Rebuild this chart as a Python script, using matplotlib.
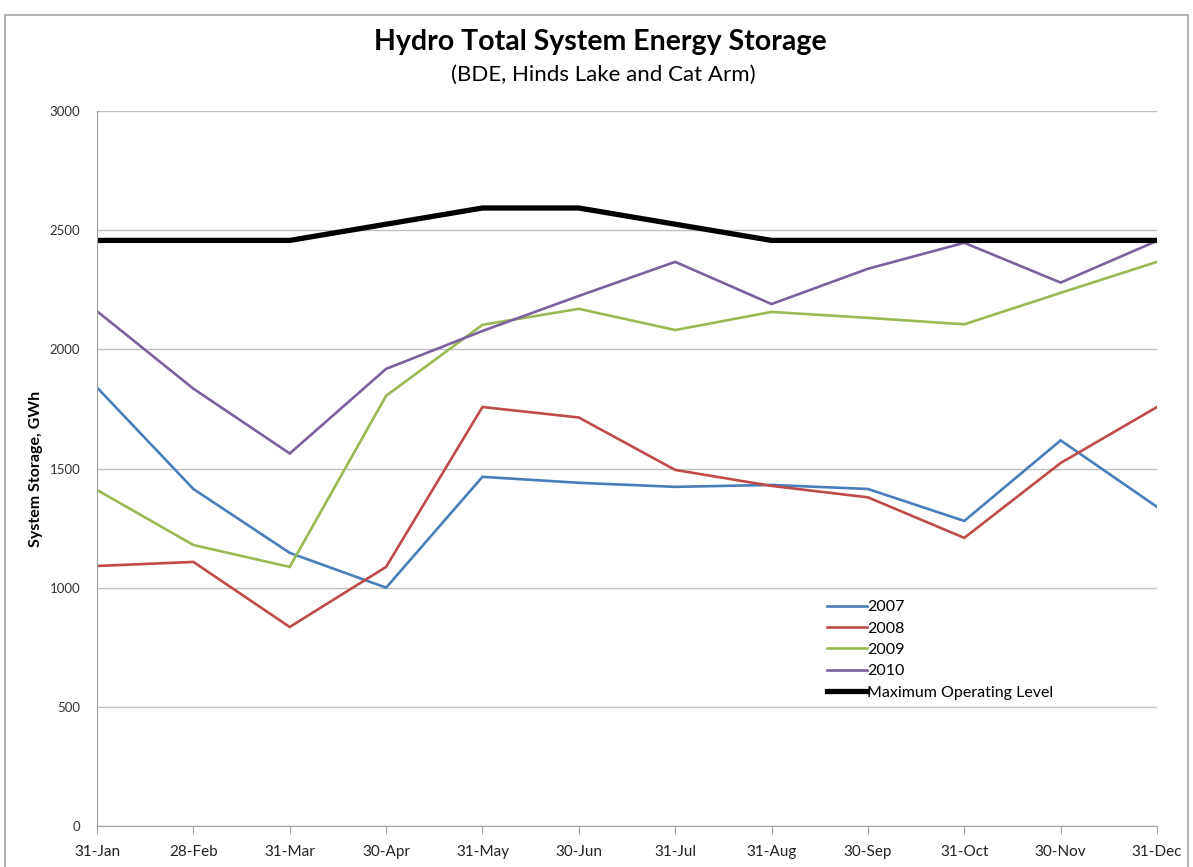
import matplotlib
matplotlib.use("Agg")
import matplotlib.pyplot as plt
from matplotlib.patches import Rectangle

plt.rcParams['font.family'] = ['Lato', 'DejaVu Sans']

months = ["31-Jan", "28-Feb", "31-Mar", "30-Apr", "31-May", "30-Jun",
          "31-Jul", "31-Aug", "30-Sep", "31-Oct", "30-Nov", "31-Dec"]

s2007 = [1840, 1414, 1146, 1000, 1465, 1440, 1423, 1431, 1414, 1280, 1618, 1339]
s2008 = [1091, 1108, 835, 1087, 1758, 1714, 1494, 1427, 1379, 1209, 1523, 1758]
s2009 = [1410, 1179, 1087, 1805, 2103, 2170, 2081, 2157, 2132, 2105, 2237, 2367]
s2010 = [2160, 1835, 1563, 1918, 2077, 2224, 2367, 2190, 2338, 2447, 2280, 2455]
max_level = [2457, 2457, 2457, 2525, 2593, 2593, 2525, 2457, 2457, 2457, 2457, 2457]

series = [("2007", s2007, "#4A7EBB", 1.9),
          ("2008", s2008, "#BE4B48", 1.9),
          ("2009", s2009, "#98B954", 1.9),
          ("2010", s2010, "#7D60A0", 1.9),
          ("Maximum Operating Level", max_level, "#000000", 3.8)]

fig = plt.figure(figsize=(11.93, 8.67), dpi=100)
ax = fig.add_axes([97/1193, 1-826/867, (1157-97)/1193, (826-111)/867])

x = list(range(len(months)))
for name, vals, col, lw in series:
    ax.plot(x, vals, color=col, lw=lw, label=name, solid_joinstyle='miter')

ax.set_xlim(0, len(months) - 1)
ax.set_ylim(0, 3000)
ax.set_yticks(range(0, 3001, 500))
ax.set_xticks(x)
ax.set_xticklabels(months)
ax.yaxis.grid(True, color="#BFBFBF", lw=1.0)
ax.set_axisbelow(True)
for s in ["top", "right"]:
    ax.spines[s].set_visible(False)
ax.spines["left"].set_color("#A0A0A0")
ax.spines["bottom"].set_color("#A0A0A0")
ax.tick_params(axis="y", length=0, pad=12, labelsize=9.5, labelcolor="#333333")
ax.tick_params(axis="x", length=6, color="#A0A0A0", pad=8, labelsize=11, labelcolor="#222222")

ax.set_ylabel("System Storage, GWh", fontsize=11.5, fontweight="bold", labelpad=5)

leg = ax.legend(loc="upper left", bbox_to_anchor=(0.683, 0.325), frameon=False,
                fontsize=11.5, handlelength=2.5, handletextpad=0.0, labelspacing=0.45,
                borderaxespad=0)

fig.text(0.503, 1-42/867, "Hydro Total System Energy Storage", ha="center", va="center",
         fontsize=20.5, fontweight="bold")
fig.text(0.506, 1-75/867, "(BDE, Hinds Lake and Cat Arm)", ha="center", va="center",
         fontsize=16)

fig.patches.append(Rectangle((5/1193, -0.01), 1183/1193, 1-15/867 + 0.01,
                             transform=fig.transFigure, fill=False,
                             edgecolor="#A6A6A6", lw=1.2))

fig.savefig("out.png", dpi=100)
